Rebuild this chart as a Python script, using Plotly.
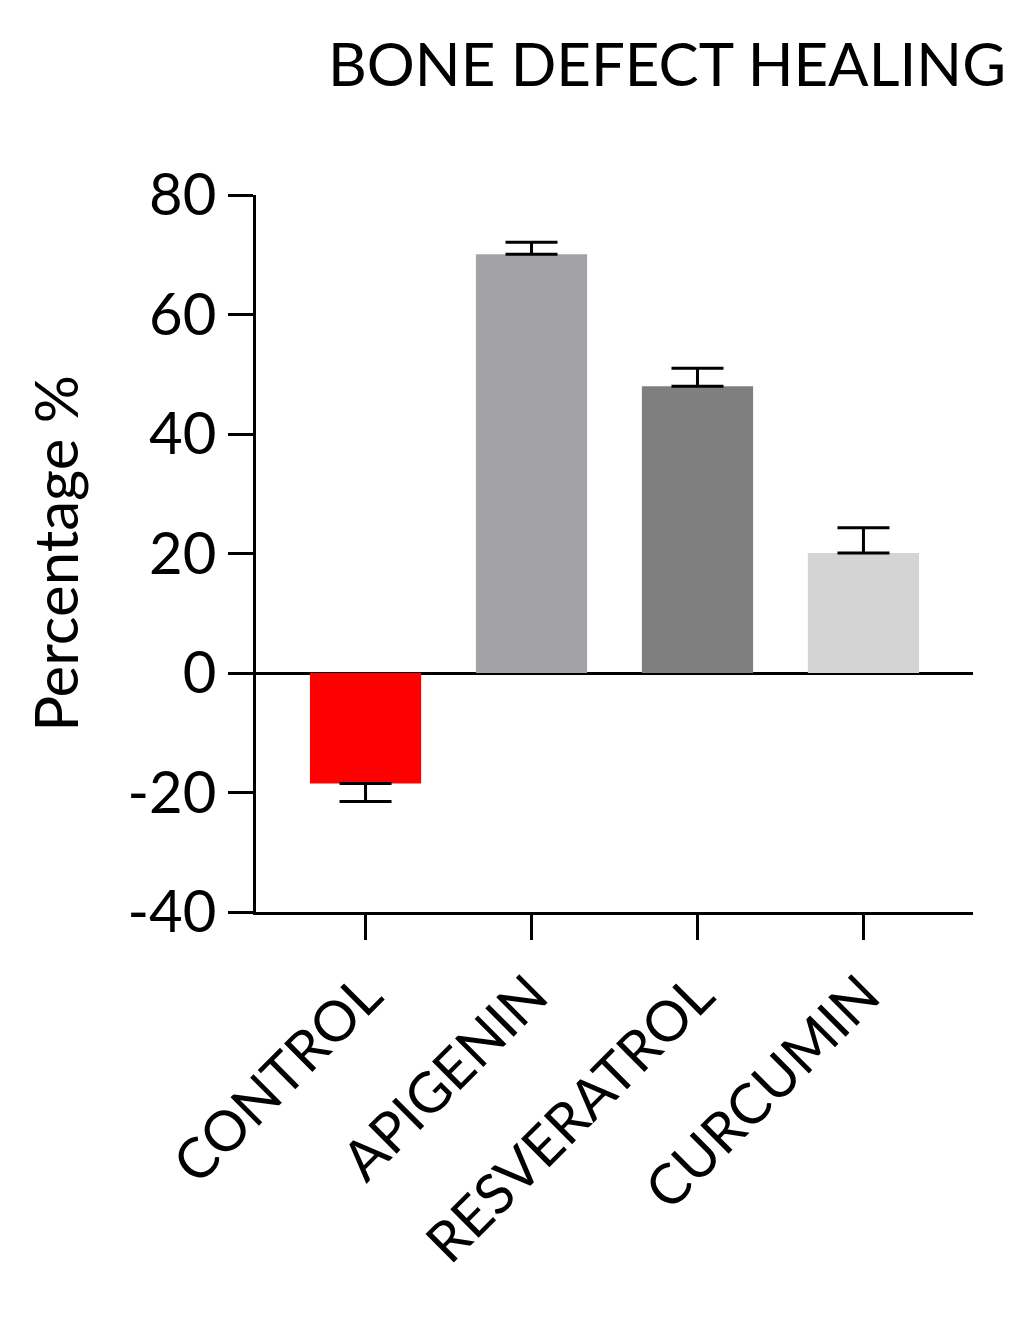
import plotly.graph_objects as go

categories = ["CONTROL", "APIGENIN", "RESVERATROL", "CURCUMIN"]
values = [-18.5, 70.1, 48.0, 20.1]
err_up = [0, 2.0, 3.0, 4.2]
err_down = [3.0, 0, 0, 0]
colors = ["#ff0000", "#a3a2a7", "#7f7f7f", "#d4d4d4"]
yticks = [-40, -20, 0, 20, 40, 60, 80]
yticklabels = ["-40", "-20", "0", "20", "40", "60", "80"]

fnt = "Lato, DejaVu Sans, sans-serif"
fig = go.Figure(go.Bar(
    x=list(range(len(categories))), y=values, width=0.67,
    marker=dict(color=colors, line=dict(width=0)),
    error_y=dict(type="data", symmetric=False, array=err_up, arrayminus=err_down,
                 color="black", thickness=3, width=26),
))
fig.update_layout(
    width=1031, height=1334, plot_bgcolor="white", paper_bgcolor="white",
    margin=dict(l=248, r=66, t=187, b=430), showlegend=False,
    font=dict(family=fnt, color="black"),
    title=dict(text="BONE DEFECT HEALING", x=0.968, xanchor="right", y=0.957, yanchor="middle",
               font=dict(size=60)),
)
fig.update_xaxes(
    range=[-0.66, 3.66], tickvals=list(range(len(categories))), ticktext=categories,
    tickangle=-45, tickfont=dict(size=56), ticks="outside", ticklen=25, tickwidth=3,
    tickcolor="black", showline=True, linecolor="black", linewidth=3, showgrid=False,
    zeroline=False,
)
fig.update_yaxes(
    range=[-40, 80], tickvals=yticks, ticktext=yticklabels, tickfont=dict(size=58),
    ticks="outside", ticklen=25, tickwidth=3, tickcolor="black", showline=True,
    linecolor="black", linewidth=3, showgrid=False, zeroline=True,
    zerolinecolor="black", zerolinewidth=3,
    title=dict(text="Percentage %", font=dict(size=60), standoff=30),
)
fig.write_html("out.html")
